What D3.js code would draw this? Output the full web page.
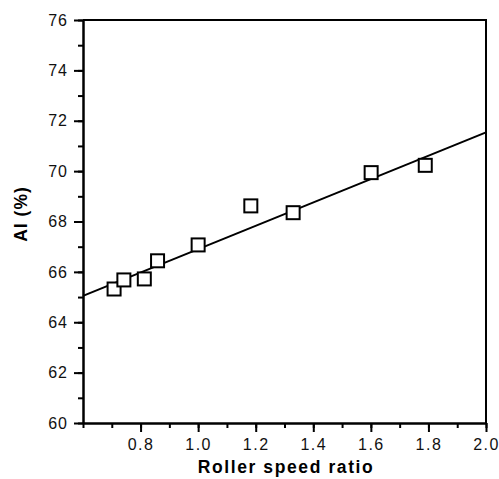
<!DOCTYPE html>
<html>
<head>
<meta charset="utf-8">
<script src="https://cdn.jsdelivr.net/npm/d3@7"></script>
<style>
  body { margin: 0; background: #fff; }
  text { font-family: "Liberation Sans", Arial, sans-serif; }
</style>
</head>
<body>
<div id="chart"></div>
<script>
// data
var speedRatio = [0.708, 0.742, 0.813, 0.859, 1.0, 1.183, 1.330, 1.601, 1.789];
var aiPercent  = [65.32, 65.68, 65.72, 66.44, 67.07, 68.62, 68.35, 69.94, 70.23];
var fitX = [0.6, 2.0];
var fitY = [65.05, 71.54];
var xTicks = [0.8, 1.0, 1.2, 1.4, 1.6, 1.8, 2.0];
var yTicks = [60, 62, 64, 66, 68, 70, 72, 74, 76];

var width = 499, height = 479;
var plotLeft = 83, plotRight = 486, plotTop = 20, plotBottom = 423;

var svg = d3.select("#chart").append("svg")
            .attr("width", width)
            .attr("height", height);

var x = d3.scaleLinear().domain([0.6, 2.0]).range([plotLeft, plotRight]);
var y = d3.scaleLinear().domain([60, 76]).range([plotBottom, plotTop]);

// frame top + right
svg.append("path")
   .attr("d", "M" + plotLeft + "," + plotTop + "H" + plotRight + "V" + plotBottom)
   .attr("fill", "none")
   .attr("stroke", "#000")
   .attr("stroke-width", 2);

// minor ticks
var xMinor = d3.range(6, 21).map(function(d){ return d / 10; });
var yMinor = d3.range(60, 77);

svg.append("g")
   .attr("transform", "translate(0," + plotBottom + ")")
   .call(d3.axisBottom(x).tickValues(xMinor).tickSize(5).tickFormat(""))
   .call(function(g){ g.select(".domain").remove(); })
   .selectAll("line").attr("stroke-width", 2);

svg.append("g")
   .attr("transform", "translate(" + plotLeft + ",0)")
   .call(d3.axisLeft(y).tickValues(yMinor).tickSize(5).tickFormat(""))
   .call(function(g){ g.select(".domain").remove(); })
   .selectAll("line").attr("stroke-width", 2);

// major axes
var xAxis = svg.append("g")
   .attr("transform", "translate(0," + plotBottom + ")")
   .call(d3.axisBottom(x).tickValues(xTicks).tickSize(9).tickSizeOuter(0).tickPadding(7)
           .tickFormat(d3.format(".1f")));
xAxis.select(".domain").attr("stroke-width", 2.5);
xAxis.selectAll("line").attr("stroke-width", 2);
xAxis.selectAll("text")
     .attr("font-size", 16)
     .attr("letter-spacing", 1.5)
     .attr("fill", "#111")
     .style("font-family", "'Liberation Sans', Arial, sans-serif");

var yAxis = svg.append("g")
   .attr("transform", "translate(" + plotLeft + ",0)")
   .call(d3.axisLeft(y).tickValues(yTicks).tickSize(9).tickSizeOuter(0).tickPadding(6));
yAxis.select(".domain").attr("stroke-width", 2.5);
yAxis.selectAll("line").attr("stroke-width", 2);
yAxis.selectAll("text")
     .attr("font-size", 16)
     .attr("letter-spacing", 1)
     .attr("fill", "#111")
     .style("font-family", "'Liberation Sans', Arial, sans-serif");

// fitted line
svg.append("line")
   .attr("x1", x(fitX[0])).attr("y1", y(fitY[0]))
   .attr("x2", x(fitX[1])).attr("y2", y(fitY[1]))
   .attr("stroke", "#000")
   .attr("stroke-width", 2);

// square markers
var sq = 13;
svg.append("g").selectAll("rect")
   .data(speedRatio)
   .enter()
   .append("rect")
   .attr("x", function(d){ return x(d) - sq / 2; })
   .attr("y", function(d, i){ return y(aiPercent[i]) - sq / 2; })
   .attr("width", sq)
   .attr("height", sq)
   .attr("fill", "#fff")
   .attr("stroke", "#000")
   .attr("stroke-width", 2);

// axis titles
svg.append("text")
   .attr("x", 286)
   .attr("y", 473)
   .attr("text-anchor", "middle")
   .attr("font-size", 17.5)
   .attr("font-weight", "bold")
   .attr("letter-spacing", 1.6)
   .text("Roller speed ratio");

svg.append("text")
   .attr("transform", "translate(27,214) rotate(-90)")
   .attr("text-anchor", "middle")
   .attr("font-size", 17.5)
   .attr("font-weight", "bold")
   .attr("letter-spacing", 1)
   .text("AI (%)");
</script>
</body>
</html>
